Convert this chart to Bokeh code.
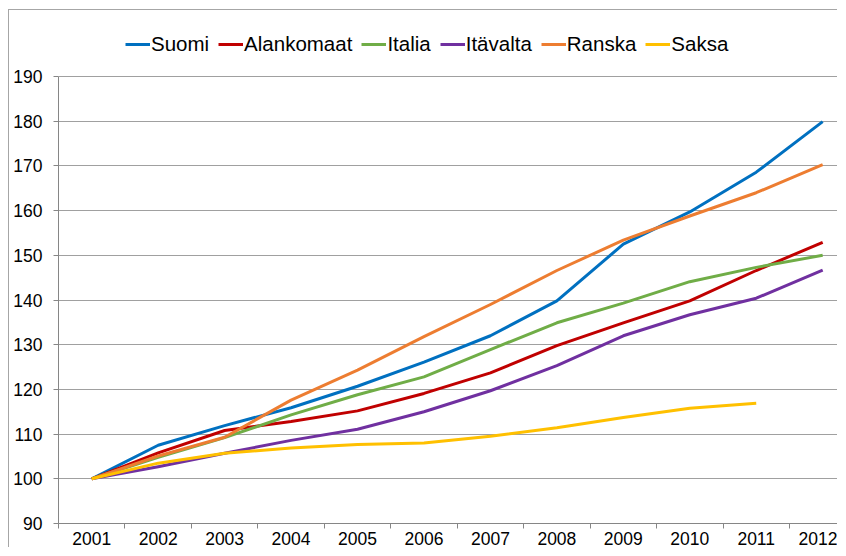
from bokeh.plotting import figure
from bokeh.layouts import column
from bokeh.models import Range1d, FixedTicker, Legend, LegendItem
from bokeh.embed import file_html
from bokeh.resources import INLINE

years = [2001, 2002, 2003, 2004, 2005, 2006, 2007, 2008, 2009, 2010, 2011, 2012]
suomi = [100, 107.5, 111.9, 115.9, 120.7, 126.1, 132.0, 139.8, 152.5, 159.7, 168.6, 179.9]
alankomaat = [100, 105.8, 110.8, 112.8, 115.2, 119.1, 123.7, 129.8, 134.9, 139.8, 146.6, 152.9]
italia = [100, 104.8, 109.2, 114.3, 118.8, 122.8, 128.9, 134.9, 139.3, 144.1, 147.3, 150.0]
itavalta = [100, 102.7, 105.7, 108.6, 111.1, 115.0, 119.7, 125.3, 132.0, 136.7, 140.4, 146.7]
ranska = [100, 105.1, 109.3, 117.6, 124.3, 131.8, 139.0, 146.6, 153.4, 158.8, 164.0, 170.3]
saksa = [100, 103.5, 105.7, 106.9, 107.7, 108.0, 109.5, 111.4, 113.7, 115.8, 116.9]

series_names = ["Suomi", "Alankomaat", "Italia", "Itävalta", "Ranska", "Saksa"]
series_values = [suomi, alankomaat, italia, itavalta, ranska, saksa]
colors = ["#0070C0", "#C00000", "#70AD47", "#7030A0", "#ED7D31", "#FFC000"]
y_ticks = [90, 100, 110, 120, 130, 140, 150, 160, 170, 180, 190]

p = figure(width=829, height=538, output_backend="svg", toolbar_location=None,
           x_range=Range1d(2000.5, 2012.238), y_range=Range1d(90, 204.77),
           min_border_left=49, min_border_right=0, min_border_top=0, min_border_bottom=25)
p.styles = {"border-top": "1px solid #a6a6a6", "border-left": "1px solid #a6a6a6"}
p.outline_line_color = None
p.background_fill_color = "white"
p.border_fill_color = "white"

font = "Liberation Sans"

# x axis
p.xaxis.ticker = FixedTicker(ticks=years, minor_ticks=[y - 0.5 for y in years] + [years[-1] + 0.5])
p.xaxis.major_tick_out = 0
p.xaxis.major_tick_in = 0
p.xaxis.minor_tick_out = 5
p.xaxis.minor_tick_in = 0
p.xaxis.minor_tick_line_color = "#868686"
p.xaxis.axis_line_color = "#868686"
p.xaxis.major_label_standoff = 3
p.xaxis.major_label_text_font = font
p.xaxis.major_label_text_font_size = "17.5px"
p.xaxis.major_label_text_color = "black"

# y axis
p.yaxis.ticker = FixedTicker(ticks=y_ticks, minor_ticks=[])
p.yaxis.bounds = (90, 190)
p.yaxis.major_tick_out = 5
p.yaxis.major_tick_in = 0
p.yaxis.minor_tick_out = 0
p.yaxis.minor_tick_in = 0
p.yaxis.major_tick_line_color = "#868686"
p.yaxis.axis_line_color = "#868686"
p.yaxis.major_label_standoff = 11
p.yaxis.major_label_text_font = font
p.yaxis.major_label_text_font_size = "17.5px"
p.yaxis.major_label_text_color = "black"

p.xgrid.grid_line_color = None
p.ygrid.ticker = FixedTicker(ticks=y_ticks[1:])
p.ygrid.grid_line_color = "#a0a0a0"
p.ygrid.grid_line_width = 1

items = []
for name, vals, col in zip(series_names, series_values, colors):
    r = p.line(years[:len(vals)], vals, line_color=col, line_width=3, line_join="round")
    items.append(LegendItem(label=name, renderers=[r]))

legend = Legend(items=items, orientation="horizontal", location=(67, 467),
                glyph_width=25, glyph_height=20, label_standoff=1, spacing=9,
                padding=0, margin=0, border_line_color=None, background_fill_alpha=0,
                label_text_font=font, label_text_font_size="20.5px", label_text_color="black")
p.add_layout(legend, "center")

root = column(p, styles={"padding-left": "8px", "padding-top": "9px"})

open("out.html", "w").write(file_html(root, INLINE))
